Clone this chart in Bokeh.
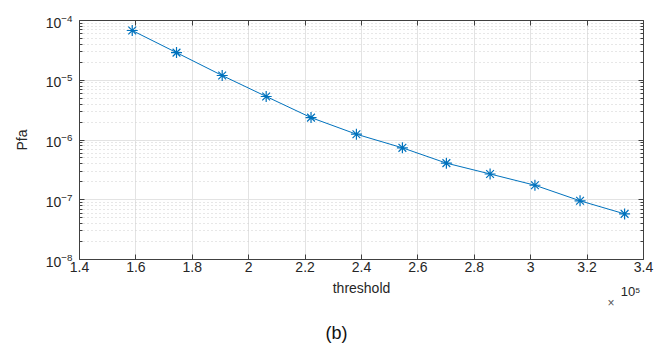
from bokeh.plotting import figure
from bokeh.models import LogAxis, LinearAxis, FixedTicker, Range1d, CustomLabelingPolicy, Title
from bokeh.embed import file_html
from bokeh.resources import INLINE

# Data (threshold in units of 1e5)
threshold = [1.587, 1.744, 1.906, 2.062, 2.221, 2.382, 2.545, 2.701, 2.856, 3.015, 3.175, 3.333]
pfa = [6.8e-5, 2.9e-5, 1.2e-5, 5.35e-6, 2.37e-6, 1.25e-6, 7.4e-7, 4.1e-7, 2.7e-7, 1.75e-7, 9.6e-8, 5.8e-8]

x_ticks = [1.4, 1.6, 1.8, 2.0, 2.2, 2.4, 2.6, 2.8, 3.0, 3.2, 3.4]
y_ticks = [1e-8, 1e-7, 1e-6, 1e-5, 1e-4]
y_minor = [m * d for d in [1e-8, 1e-7, 1e-6, 1e-5] for m in range(2, 10)]

FONT = "Liberation Sans"
TXT = "#262626"
AX = "#404040"
BLUE = "#0072BD"

p = figure(width=659, height=344, x_range=Range1d(1.4, 3.4), y_range=Range1d(1e-8, 1e-4),
           y_axis_type="log", output_backend="svg", toolbar_location=None,
           min_border_left=79, min_border_right=16, min_border_top=20, min_border_bottom=85)
p.outline_line_color = None

xt = FixedTicker(ticks=x_ticks, minor_ticks=[])
yt = FixedTicker(ticks=y_ticks, minor_ticks=y_minor)

p.xaxis.ticker = xt
p.yaxis.ticker = yt
p.xgrid.ticker = xt
p.ygrid.ticker = yt

p.xgrid.grid_line_color = "#e3e3e3"
p.ygrid.grid_line_color = "#e3e3e3"
p.ygrid.minor_grid_line_color = "#cfcfcf"
p.ygrid.minor_grid_line_dash = "1 3"

def style(ax):
    ax.axis_line_color = AX
    ax.axis_line_width = 1
    ax.major_tick_line_color = AX
    ax.minor_tick_line_color = AX
    ax.major_tick_in = 5
    ax.major_tick_out = 0
    ax.minor_tick_in = 3
    ax.minor_tick_out = 0
    ax.major_label_text_font = FONT
    ax.major_label_text_font_size = "14px"
    ax.major_label_text_color = TXT
    ax.axis_label_text_font = FONT
    ax.axis_label_text_font_size = "14px"
    ax.axis_label_text_font_style = "normal"
    ax.axis_label_text_color = TXT

for ax in p.xaxis + p.yaxis:
    style(ax)

p.xaxis.axis_label = "threshold"
p.xaxis.major_label_standoff = 2
p.xaxis.axis_label_standoff = 5
p.yaxis.axis_label = "Pfa"
p.yaxis.major_label_standoff = 7
p.yaxis.axis_label_standoff = 13

hide_all = CustomLabelingPolicy(code="for (const i of indices) indices.unset(i); return indices;")

top = LinearAxis(ticker=xt)
style(top)
top.major_label_text_font_size = "1px"
top.major_label_standoff = 0
top.major_label_policy = hide_all
p.add_layout(top, "above")

right = LogAxis(ticker=yt)
style(right)
right.major_label_text_font_size = "1px"
right.major_label_standoff = 0
right.major_label_policy = hide_all
p.add_layout(right, "right")

p.line(threshold, pfa, line_color=BLUE, line_width=1)
p.scatter(threshold, pfa, marker="asterisk", size=11, line_color=BLUE, line_width=1.2)

# x10^5 multiplier and panel caption, placed below the x axis
t_exp = Title(text="10\u2075", align="right", vertical_align="top", offset=3, standoff=-29,
              text_font=FONT, text_font_size="13px", text_font_style="normal", text_color=TXT)
t_times = Title(text="\u00d7", align="right", vertical_align="bottom", offset=29, standoff=-23,
                text_font=FONT, text_font_size="12px", text_font_style="normal", text_color="#555555")
t_cap = Title(text="(b)", align="left", vertical_align="bottom", offset=246, standoff=-89,
              text_font=FONT, text_font_size="18px", text_font_style="normal", text_color="#111111")
p.add_layout(t_exp, "below")
p.add_layout(t_times, "below")
p.add_layout(t_cap, "below")

open("out.html", "w").write(file_html(p, INLINE))
